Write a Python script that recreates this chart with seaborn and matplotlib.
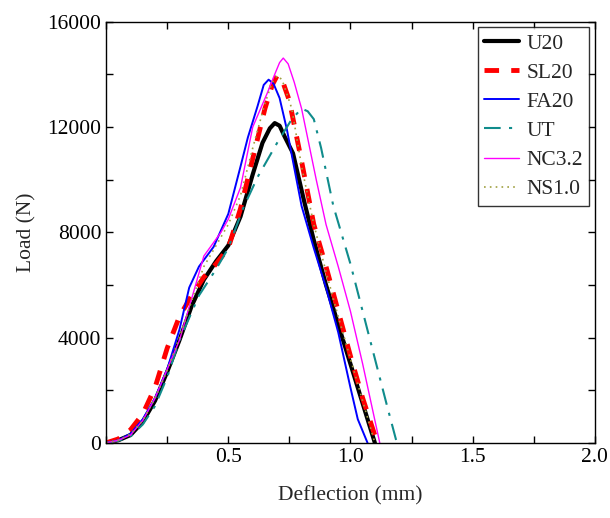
import numpy as np
import pandas as pd
import matplotlib
matplotlib.use("Agg")
import matplotlib.pyplot as plt
from matplotlib.ticker import MultipleLocator
import seaborn as sns

u20_x = [0, 0.05, 0.1, 0.15, 0.2, 0.25, 0.3, 0.35, 0.4, 0.45, 0.5, 0.55, 0.6, 0.64, 0.67, 0.69, 0.71, 0.73, 0.765, 0.81, 0.85, 0.9, 0.95, 1.0, 1.05, 1.1]
u20_y = [0, 100, 300, 800, 1600, 2700, 3900, 5200, 6200, 6900, 7500, 8600, 10200, 11400, 11950, 12150, 12050, 11650, 11000, 9200, 7700, 6000, 4500, 3000, 1500, 0]

sl20_x = [0, 0.05, 0.1, 0.15, 0.2, 0.25, 0.3, 0.35, 0.4, 0.45, 0.5, 0.55, 0.6, 0.65, 0.68, 0.70, 0.72, 0.75, 0.8, 0.85, 0.9, 0.95, 1.0, 1.05, 1.11]
sl20_y = [0, 150, 500, 1100, 2100, 3600, 4800, 5600, 6300, 6800, 7400, 8900, 10800, 12700, 13600, 13950, 13800, 13000, 10700, 8300, 6700, 5000, 3300, 1700, 0]

fa20_x = [0, 0.05, 0.1, 0.15, 0.2, 0.25, 0.3, 0.34, 0.38, 0.44, 0.5, 0.55, 0.58, 0.62, 0.645, 0.665, 0.685, 0.71, 0.74, 0.8, 0.85, 0.9, 0.95, 1.0, 1.03, 1.07]
fa20_y = [0, 100, 350, 900, 1700, 2800, 4300, 5900, 6700, 7450, 8700, 10500, 11600, 12800, 13600, 13800, 13650, 13100, 11900, 9000, 7400, 5900, 4200, 2100, 900, 0]

ut_x = [0, 0.05, 0.1, 0.15, 0.2, 0.25, 0.3, 0.38, 0.45, 0.5, 0.56, 0.62, 0.7, 0.76, 0.8, 0.825, 0.85, 0.88, 0.93, 1.0, 1.05, 1.1, 1.15, 1.19]
ut_y = [0, 80, 250, 700, 1400, 2500, 3900, 5600, 6600, 7400, 8900, 10100, 11400, 12300, 12700, 12600, 12300, 11200, 9000, 6800, 5000, 3200, 1400, 0]

nc32_x = [0, 0.05, 0.1, 0.15, 0.2, 0.25, 0.3, 0.36, 0.4, 0.47, 0.5, 0.55, 0.6, 0.66, 0.69, 0.71, 0.725, 0.745, 0.77, 0.8, 0.86, 0.9, 0.95, 1.0, 1.05, 1.12]
nc32_y = [0, 100, 300, 850, 1700, 2800, 3900, 5800, 7100, 8000, 8500, 9700, 12000, 13300, 14000, 14450, 14620, 14400, 13700, 12700, 10000, 8300, 6700, 5000, 3000, 0]

ns10_x = [0, 0.05, 0.1, 0.15, 0.2, 0.25, 0.3, 0.35, 0.4, 0.45, 0.5, 0.55, 0.6, 0.65, 0.68, 0.70, 0.72, 0.76, 0.8, 0.85, 0.9, 0.95, 1.0, 1.05, 1.1]
ns10_y = [0, 100, 330, 850, 1700, 2750, 4000, 5400, 6700, 7500, 8300, 9400, 11200, 12900, 13700, 13950, 13800, 12700, 10500, 8300, 6500, 4800, 3200, 1600, 0]

series = [
    ("U20", u20_x, u20_y, dict(color="black", lw=3.0, ls="-")),
    ("SL20", sl20_x, sl20_y, dict(color="red", lw=3.5, ls=(0, (3, 2.5)))),
    ("FA20", fa20_x, fa20_y, dict(color="blue", lw=1.4, ls="-")),
    ("UT", ut_x, ut_y, dict(color="#108c8c", lw=1.5, ls=(0, (8, 4, 1.5, 4)))),
    ("NC3.2", nc32_x, nc32_y, dict(color="magenta", lw=1.0, ls="-")),
    ("NS1.0", ns10_x, ns10_y, dict(color="#a0a040", lw=1.2, ls=(0, (1, 2.5)))),
]

sns.set_style("ticks")
plt.rcParams['font.family'] = ['Liberation Serif', 'DejaVu Serif']

fig = plt.figure(figsize=(6.1, 5.18), dpi=100)
ax = fig.add_axes([0.174, 0.145, 0.801, 0.813])

for name, xs, ys, st in series:
    df = pd.DataFrame({"x": xs, "y": ys})
    sns.lineplot(data=df, x="x", y="y", ax=ax, label=name, sort=False,
                 color=st["color"], linewidth=st["lw"], linestyle=st["ls"])

ax.set_xlim(0, 2.0)
ax.set_ylim(0, 16000)
ax.set_xticks([0.5, 1.0, 1.5, 2.0])
ax.set_xticklabels(["0.5", "1.0", "1.5", "2.0"])
ax.xaxis.set_minor_locator(MultipleLocator(0.25))
ax.set_yticks([0, 4000, 8000, 12000, 16000])
ax.yaxis.set_minor_locator(MultipleLocator(2000))
ax.tick_params(which="both", direction="in", top=True, right=True,
               length=5, width=1, labelsize=15.5, colors="black")
for sp in ax.spines.values():
    sp.set_linewidth(1.0)
    sp.set_color("black")

ax.set_xlabel("Deflection (mm)", fontsize=15.5, labelpad=14)
ax.set_ylabel("Load (N)", fontsize=15.5, labelpad=8)

leg = ax.legend(loc="upper right", fontsize=15.5, frameon=True, fancybox=False,
                edgecolor="black", handlelength=1.6, labelspacing=0.42,
                borderaxespad=0.25, handletextpad=0.35, borderpad=0.3)
leg.get_frame().set_linewidth(1.0)

fig.savefig("out.png", dpi=100)
